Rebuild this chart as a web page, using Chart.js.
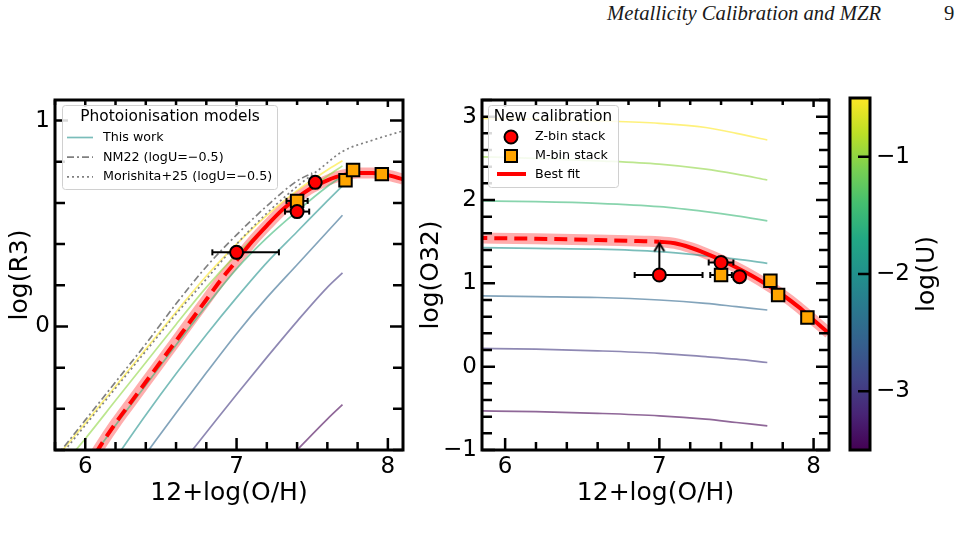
<!DOCTYPE html>
<html>
<head>
<meta charset="utf-8">
<script src="https://cdn.jsdelivr.net/npm/chart.js@4.4.0/dist/chart.umd.min.js"></script>
<style>
html,body{margin:0;padding:0;background:#fff;}
#wrap{position:relative;width:972px;height:534px;overflow:hidden;}
canvas{position:absolute;left:0;top:0;}
.hdr{position:absolute;top:2px;font-family:"Liberation Serif","Times New Roman",serif;font-size:20.7px;color:#1a1a1a;white-space:nowrap;}
</style>
</head>
<body>
<div id="wrap">
  <div class="hdr" style="left:607px;font-style:italic">Metallicity Calibration and MZR</div>
  <div class="hdr" style="left:944px">9</div>
  <canvas id="r3" width="972" height="534"></canvas>
  <canvas id="o32" width="972" height="534"></canvas>
  <canvas id="cbar" width="972" height="534"></canvas>
</div>
<script>
// ---- data ----
const OH_TICKS = [6, 7, 8];
const R3_TICKS = [0, 1];
const O32_TICKS = [-1, 0, 1, 2, 3];
const LOGU_TICKS = [-3, -2, -1];

const LOGU_LEVELS = [-0.5, -1.0, -1.5, -2.0, -2.5, -3.0, -3.5];

// photoionisation model grids (this work)
const MODEL_OH_R3 = [5.8, 6.0, 6.2, 6.4, 6.6, 6.8, 7.0, 7.2, 7.4, 7.6, 7.7];
const MODEL_R3 = [
  [-0.645, -0.47, -0.29, -0.11, 0.07, 0.245, 0.40, 0.54, 0.66, 0.76, 0.805],
  [-0.72, -0.545, -0.36, -0.175, 0.01, 0.19, 0.35, 0.49, 0.62, 0.73, 0.78],
  [-0.88, -0.68, -0.48, -0.285, -0.09, 0.10, 0.28, 0.43, 0.56, 0.68, 0.73],
  [null, null, -0.64, -0.43, -0.23, -0.04, 0.14, 0.31, 0.46, 0.61, 0.683],
  [null, null, null, -0.62, -0.42, -0.225, -0.035, 0.14, 0.30, 0.46, 0.54],
  [null, null, null, null, -0.70, -0.515, -0.33, -0.15, 0.025, 0.19, 0.26],
  [null, null, null, null, null, null, null, -0.75, -0.60, -0.45, -0.38]
];
const MODEL_OH_O32 = [5.8, 6.2, 6.6, 7.0, 7.3, 7.5, 7.7];
const MODEL_O32 = [
  [2.98, 2.97, 2.95, 2.92, 2.87, 2.80, 2.72],
  [2.52, 2.50, 2.47, 2.43, 2.37, 2.31, 2.24],
  [1.99, 1.98, 1.96, 1.92, 1.86, 1.81, 1.75],
  [1.43, 1.42, 1.41, 1.38, 1.33, 1.29, 1.24],
  [0.85, 0.84, 0.83, 0.80, 0.76, 0.72, 0.68],
  [0.22, 0.21, 0.19, 0.16, 0.12, 0.09, 0.05],
  [-0.53, -0.54, -0.56, -0.59, -0.63, -0.67, -0.71]
];

// literature models (logU = -0.5)
const NM22_OH = [5.8, 6.0, 6.2, 6.4, 6.6, 6.8, 7.0, 7.2, 7.4, 7.5];
const NM22_R3 = [-0.64, -0.455, -0.27, -0.085, 0.11, 0.29, 0.445, 0.585, 0.707, 0.745];
const MOR25_OH = [5.8, 6.0, 6.2, 6.4, 6.6, 6.8, 7.0, 7.2, 7.4, 7.55, 7.7, 7.9, 8.1];
const MOR25_R3 = [-0.66, -0.48, -0.30, -0.12, 0.06, 0.23, 0.40, 0.55, 0.68, 0.765, 0.85, 0.905, 0.95];

// best-fit calibrations (dashed below FIT_EXTRAP_END)
const FIT_EXTRAP_END = 7.0;
const FIT_OH_R3 = [6.0, 6.1, 6.2, 6.3, 6.4, 6.5, 6.6, 6.7, 6.8, 6.9, 7.0, 7.1, 7.2, 7.3, 7.4, 7.5, 7.6, 7.7, 7.8, 7.9, 8.0, 8.1];
const FIT_R3 = [-0.70, -0.58, -0.47, -0.37, -0.27, -0.17, -0.07, 0.03, 0.13, 0.23, 0.32, 0.41, 0.49, 0.565, 0.625, 0.675, 0.71, 0.735, 0.745, 0.745, 0.735, 0.715];
const FIT_OH_O32 = [5.8, 6.2, 6.6, 6.9, 7.0, 7.1, 7.2, 7.3, 7.4, 7.5, 7.6, 7.7, 7.8, 7.9, 8.0, 8.1];
const FIT_O32 = [1.545, 1.535, 1.52, 1.505, 1.50, 1.48, 1.43, 1.36, 1.28, 1.19, 1.09, 0.98, 0.86, 0.72, 0.56, 0.40];

// stacks
const ZBIN_OH = [7.0, 7.40, 7.52];
const ZBIN_OH_LO = [0.16, 0.08, 0];
const ZBIN_OH_HI = [0.28, 0.08, 0];
const ZBIN_R3 = [0.36, 0.558, 0.70];
const ZBIN_O32 = [1.10, 1.25, 1.08];
const ZBIN_O32_LIMIT = [1.48, null, null];
const MBIN_OH = [7.40, 7.72, 7.77, 7.96];
const MBIN_OH_ERR = [0.07, 0, 0, 0];
const MBIN_R3 = [0.61, 0.71, 0.76, 0.74];
const MBIN_O32 = [1.10, 1.03, 0.86, 0.59];

// ---- helpers ----
const FONT = '"DejaVu Sans", Verdana, sans-serif';
const VIRIDIS = ['#440154','#482475','#414487','#355f8d','#2a788e','#21918c','#22a884','#44bf70','#7ad151','#bddf26','#fde725'];
const U_MIN = -3.5, U_MAX = -0.5;

function hexRgb(h){ return [1,3,5].map(i=>parseInt(h.substr(i,2),16)); }
function viridis(t, alpha){
  const p = Math.min(Math.max(t,0),1)*10, i = Math.min(Math.floor(p),9), f = p-i;
  const a = hexRgb(VIRIDIS[i]), b = hexRgb(VIRIDIS[i+1]);
  const c = a.map((v,k)=>Math.round(v+(b[k]-v)*f));
  return `rgba(${c[0]},${c[1]},${c[2]},${alpha})`;
}
const uColor = u => viridis((u-U_MIN)/(U_MAX-U_MIN), 0.6);
const pts = (xs, ys) => xs.map((x,i)=>({x, y: ys[i]})).filter(p=>p.y!==null);
const minus = v => v < 0 ? '\u2212' + Math.abs(v) : String(v);

function lineSet(data, color, width, extra){
  return Object.assign({data, showLine:true, borderColor:color, borderWidth:width, pointRadius:0,
    cubicInterpolationMode:'monotone', clip:0}, extra||{});
}
function xErrSets(xs, ys, lo, hi){
  const out = [];
  xs.forEach((x,i)=>{
    if(!lo[i] && !hi[i]) return;
    out.push({data:[{x:x-lo[i], y:ys[i]}, {x:x+hi[i], y:ys[i]}], showLine:true, borderColor:'#000', borderWidth:2,
      pointStyle:'line', pointRotation:90, pointRadius:3, pointBorderWidth:2, pointBorderColor:'#000', order:10, clip:0});
  });
  return out;
}
function circleSet(data){
  return {data, pointStyle:'circle', pointRadius:6.5, pointBackgroundColor:'#ff0000', pointBorderColor:'#000', pointBorderWidth:2, order:6, clip:0};
}
function squareSet(data){
  return {data, pointStyle:'rect', pointRadius:8.8, pointBackgroundColor:'#ffa500', pointBorderColor:'#000', pointBorderWidth:2, order:8, clip:0};
}
function fitSets(xs, ys){
  const all = pts(xs, ys);
  return [
    lineSet(all, 'rgba(255,0,0,0.32)', 11, {order:20}),
    lineSet(all.filter(p=>p.x<=FIT_EXTRAP_END), '#ff0000', 4, {order:12, borderDash:[13,7]}),
    lineSet(all.filter(p=>p.x>=FIT_EXTRAP_END), '#ff0000', 4, {order:12})
  ];
}

// arrow head used as point style for lower limits
const arrowHead = (()=>{
  const c = document.createElement('canvas'); c.width = 20; c.height = 20;
  const g = c.getContext('2d');
  g.strokeStyle = '#000'; g.lineWidth = 2;
  g.beginPath(); g.moveTo(5,18); g.lineTo(10,10); g.lineTo(15,18); g.stroke();
  return c;
})();

// frame, inward ticks and hand-placed legend
function framePlugin(cfg){
  return {
    id:'frameTicks',
    afterDatasetsDraw(chart){
      const {ctx, chartArea:a, scales:{x, y}} = chart;
      ctx.save();
      ctx.strokeStyle = '#000'; ctx.lineCap = 'butt';
      ctx.lineWidth = 2.5;
      ctx.beginPath();
      const step = 0.2;
      if(cfg.xTicks){
        for(let k=Math.ceil(x.min/step-1e-6); k*step<=x.max+1e-6; k++){
          const v = k*step, px = x.getPixelForValue(v);
          const major = cfg.xTicks.some(m=>Math.abs(m-v)<1e-6);
          const lb = major ? 12 : 8, lt = major ? 7 : 5;
          ctx.moveTo(px, a.bottom); ctx.lineTo(px, a.bottom-lb);
          ctx.moveTo(px, a.top); ctx.lineTo(px, a.top+lt);
        }
      }
      for(let k=Math.ceil(y.min/step-1e-6); k*step<=y.max+1e-6; k++){
        const v = k*step, py = y.getPixelForValue(v);
        const major = cfg.yTicks.some(m=>Math.abs(m-v)<1e-6);
        if(cfg.cbar){
          if(!major) continue;
          ctx.moveTo(a.right, py); ctx.lineTo(a.right-12, py);
          continue;
        }
        const l = major ? 13 : 10;
        ctx.moveTo(a.left, py); ctx.lineTo(a.left+l, py);
        ctx.moveTo(a.right, py); ctx.lineTo(a.right-l, py);
      }
      ctx.stroke();
      ctx.lineWidth = 3;
      ctx.strokeRect(a.left, a.top, a.width, a.height);
      ctx.restore();
      if(cfg.legend) cfg.legend(ctx);
    },
    beforeDatasetsDraw(chart){
      if(!cfg.cbar) return;
      const {ctx, chartArea:a, scales:{y}} = chart;
      const g = ctx.createLinearGradient(0, y.getPixelForValue(U_MIN), 0, y.getPixelForValue(U_MAX));
      VIRIDIS.forEach((c,i)=>g.addColorStop(i/10, c));
      ctx.save(); ctx.fillStyle = g; ctx.fillRect(a.left, a.top, a.width, a.height);
      ctx.fillStyle = '#000'; ctx.font = '25px ' + FONT; ctx.textAlign = 'center'; ctx.textBaseline = 'middle';
      ctx.translate(927, (a.top+a.bottom)/2); ctx.rotate(-Math.PI/2);
      ctx.fillText('log(U)', 0, 0);
      ctx.restore();
    }
  };
}

function legendBox(ctx, x0, y0, x1, y1){
  ctx.save();
  ctx.fillStyle = 'rgba(255,255,255,0.85)'; ctx.strokeStyle = '#d0d0d0'; ctx.lineWidth = 1;
  ctx.beginPath();
  if(ctx.roundRect) ctx.roundRect(x0+0.5, y0+0.5, x1-x0, y1-y0, 3); else ctx.rect(x0+0.5, y0+0.5, x1-x0, y1-y0);
  ctx.fill(); ctx.stroke();
  ctx.restore();
}
function legendR3(ctx){
  legendBox(ctx, 62, 105, 277, 189);
  ctx.save();
  ctx.fillStyle = '#000'; ctx.textBaseline = 'middle';
  ctx.font = '15.4px ' + FONT; ctx.textAlign = 'center';
  ctx.fillText('Photoionisation models', 170, 117);
  ctx.textAlign = 'left'; ctx.font = '12.7px ' + FONT;
  const rows = [
    ['This work', uColor(-2.0), []],
    ['NM22 (logU=\u22120.5)', '#808080', [7,3,2,3]],
    ['Morishita+25 (logU=\u22120.5)', '#808080', [2,3]]
  ];
  rows.forEach((r,i)=>{
    const yy = 137.5 + i*19.7;
    ctx.strokeStyle = r[1]; ctx.lineWidth = 1.7; ctx.setLineDash(r[2]);
    ctx.beginPath(); ctx.moveTo(67, yy); ctx.lineTo(93, yy); ctx.stroke();
    ctx.fillText(r[0], 103, yy);
  });
  ctx.restore();
}
function legendO32(ctx){
  legendBox(ctx, 488, 105, 618, 187);
  ctx.save();
  ctx.fillStyle = '#000'; ctx.textBaseline = 'middle';
  ctx.font = '15.2px ' + FONT; ctx.textAlign = 'center';
  ctx.fillText('New calibration', 553, 117);
  ctx.textAlign = 'left'; ctx.font = '12.7px ' + FONT;
  ctx.lineWidth = 2; ctx.strokeStyle = '#000';
  ctx.fillStyle = '#ff0000';
  ctx.beginPath(); ctx.arc(511, 137, 6.5, 0, Math.PI*2); ctx.fill(); ctx.stroke();
  ctx.fillStyle = '#ffa500';
  ctx.fillRect(505, 150, 12, 12); ctx.strokeRect(505, 150, 12, 12);
  ctx.strokeStyle = '#ff0000'; ctx.lineWidth = 4;
  ctx.beginPath(); ctx.moveTo(497, 174); ctx.lineTo(526, 174); ctx.stroke();
  ctx.fillStyle = '#000';
  ctx.fillText('Z-bin stack', 535, 137);
  ctx.fillText('M-bin stack', 535, 156);
  ctx.fillText('Best fit', 535, 174.5);
  ctx.restore();
}

function axisX(min, max, pad){
  return {type:'linear', min, max, position:'bottom',
    afterBuildTicks: s => { s.ticks = OH_TICKS.map(v=>({value:v})); },
    afterFit: s => { s.height = 84; },
    grid:{display:false, drawTicks:false}, border:{display:false},
    ticks:{padding:3, color:'#000', font:{family:FONT, size:23}, callback:v=>minus(v)},
    title:{display:true, text:'12+log(O/H)', color:'#000', font:{family:FONT, size:25}, padding:{top:0, bottom:pad}}};
}
function axisY(min, max, ticks, width, title, tpad){
  return {type:'linear', min, max, position:'left',
    afterBuildTicks: s => { s.ticks = ticks.map(v=>({value:v})); },
    afterFit: s => { s.width = width; },
    grid:{display:false, drawTicks:false}, border:{display:false},
    ticks:{padding:5, color:'#000', font:{family:FONT, size:23}, callback:v=>minus(v)},
    title:{display:true, text:title, color:'#000', font:{family:FONT, size:25}, padding:{top:tpad, bottom:0}}};
}
const baseOpts = {responsive:false, animation:false, events:[], plugins:{legend:{display:false}, tooltip:{enabled:false}}};

// ---- left panel: R3 ----
const r3Sets = [].concat(
  fitSets(FIT_OH_R3, FIT_R3),
  LOGU_LEVELS.map((u,i)=>lineSet(pts(MODEL_OH_R3, MODEL_R3[i]), uColor(u), 1.7, {order:15})),
  [lineSet(pts(NM22_OH, NM22_R3), '#808080', 1.7, {order:14, borderDash:[7,3,2,3]}),
   lineSet(pts(MOR25_OH, MOR25_R3), '#808080', 1.7, {order:14, borderDash:[2,3]})],
  xErrSets(ZBIN_OH, ZBIN_R3, ZBIN_OH_LO, ZBIN_OH_HI),
  xErrSets(MBIN_OH, MBIN_R3, MBIN_OH_ERR, MBIN_OH_ERR),
  [squareSet(pts(MBIN_OH, MBIN_R3)), circleSet(pts(ZBIN_OH, ZBIN_R3))]
);
new Chart(document.getElementById('r3'), {
  type:'scatter',
  data:{datasets:r3Sets},
  options:Object.assign({}, baseOpts, {
    layout:{padding:{left:0, top:100, right:569, bottom:0}},
    scales:{x:axisX(5.8, 8.1, 26), y:axisY(-0.6, 1.1, R3_TICKS, 55, 'log(R3)', 5)}
  }),
  plugins:[framePlugin({xTicks:OH_TICKS, yTicks:R3_TICKS, legend:legendR3})]
});

// ---- right panel: O32 ----
const limitSets = ZBIN_OH.map((x,i)=>ZBIN_O32_LIMIT[i]===null ? null : {
  data:[{x, y:ZBIN_O32[i]}, {x, y:ZBIN_O32_LIMIT[i]}], showLine:true, borderColor:'#000', borderWidth:2,
  pointStyle:[false, arrowHead], pointRadius:[0, 10], order:9, clip:0
}).filter(Boolean);
const o32Sets = [].concat(
  fitSets(FIT_OH_O32, FIT_O32),
  LOGU_LEVELS.map((u,i)=>lineSet(pts(MODEL_OH_O32, MODEL_O32[i]), uColor(u), 1.7, {order:15})),
  xErrSets(ZBIN_OH, ZBIN_O32, ZBIN_OH_LO, ZBIN_OH_HI),
  xErrSets(MBIN_OH, MBIN_O32, MBIN_OH_ERR, MBIN_OH_ERR),
  limitSets,
  [squareSet(pts(MBIN_OH, MBIN_O32)), circleSet(pts(ZBIN_OH, ZBIN_O32))]
);
new Chart(document.getElementById('o32'), {
  type:'scatter',
  data:{datasets:o32Sets},
  options:Object.assign({}, baseOpts, {
    layout:{padding:{left:410, top:100, right:143, bottom:0}},
    scales:{x:axisX(5.85, 8.1, 26), y:axisY(-1, 3.2, O32_TICKS, 72, 'log(O32)', 6)}
  }),
  plugins:[framePlugin({xTicks:OH_TICKS, yTicks:O32_TICKS, legend:legendO32})]
});

// ---- colour bar: log(U) ----
new Chart(document.getElementById('cbar'), {
  type:'scatter',
  data:{datasets:[]},
  options:Object.assign({}, baseOpts, {
    layout:{padding:{left:850, top:98, right:0, bottom:84}},
    scales:{
      x:{display:false, min:0, max:1},
      y:{type:'linear', min:U_MIN, max:U_MAX, position:'right',
        afterBuildTicks: s => { s.ticks = LOGU_TICKS.map(v=>({value:v})); },
        afterFit: s => { s.width = 102; },
        grid:{display:false, drawTicks:false}, border:{display:false},
        ticks:{padding:6, color:'#000', font:{family:FONT, size:23}, callback:v=>minus(v)}}
    }
  }),
  plugins:[framePlugin({yTicks:LOGU_TICKS, cbar:true})]
});
</script>
</body>
</html>
